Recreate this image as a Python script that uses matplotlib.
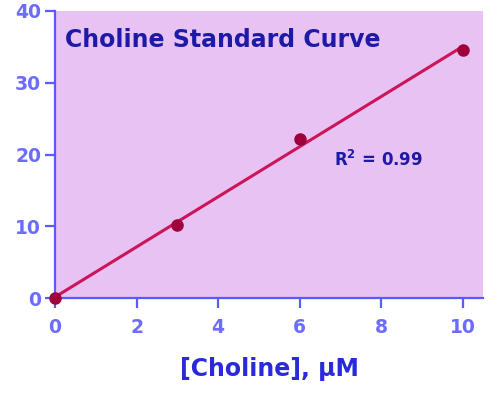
import numpy as np
import matplotlib
matplotlib.use("Agg")
import matplotlib.pyplot as plt

# standard curve data
choline_uM = [0, 3, 6, 10]
signal = [0.0, 10.2, 22.2, 34.5]
x_ticks = [0, 2, 4, 6, 8, 10]
y_ticks = [0, 10, 20, 30, 40]
r2_text = "R$^2$ = 0.99"

axis_blue = '#5a5aff'
label_blue = '#6c6cff'
dark_blue = '#1e1aa8'

plt.rcParams['font.family'] = ['DejaVu Sans']
plt.rcParams['mathtext.default'] = 'bf'

fig = plt.figure(figsize=(5, 4.04), dpi=100)
ax = fig.add_axes([0.11, 0.262, 0.856, 0.711])
ax.set_facecolor('#e8c2f2')

# linear fit through the points
coef = np.polyfit(choline_uM, signal, 1)
xfit = np.array([0, max(choline_uM)])
ax.plot(xfit, np.polyval(coef, xfit), color='#cc1458', lw=2.2, zorder=2, clip_on=False)
ax.plot(choline_uM, signal, 'o', color='#a0003a', ms=8, zorder=3, clip_on=False)

ax.set_xlim(0, 10.5)
ax.set_ylim(0, 40)
ax.set_xticks(x_ticks)
ax.set_yticks(y_ticks)

for s in ['top', 'right']:
    ax.spines[s].set_visible(False)
for s in ['left', 'bottom']:
    ax.spines[s].set_color(axis_blue)
    ax.spines[s].set_linewidth(1.6)
ax.tick_params(colors=axis_blue, width=1.6, length=7, labelcolor=label_blue, labelsize=13.5)
for lab in ax.get_xticklabels() + ax.get_yticklabels():
    lab.set_fontweight('bold')
ax.tick_params(axis='x', pad=7)
ax.tick_params(axis='y', pad=3)

ax.text(0.25, 35.9, 'Choline Standard Curve', color=dark_blue, fontsize=17,
        fontweight='bold', va='center')
ax.text(6.85, 19.2, r2_text, color=dark_blue, fontsize=12, fontweight='bold', va='center')

ax.set_xlabel('[Choline], µM', color='#2a2adc', fontsize=17, fontweight='bold', labelpad=15)

fig.savefig('out.png', dpi=100)
